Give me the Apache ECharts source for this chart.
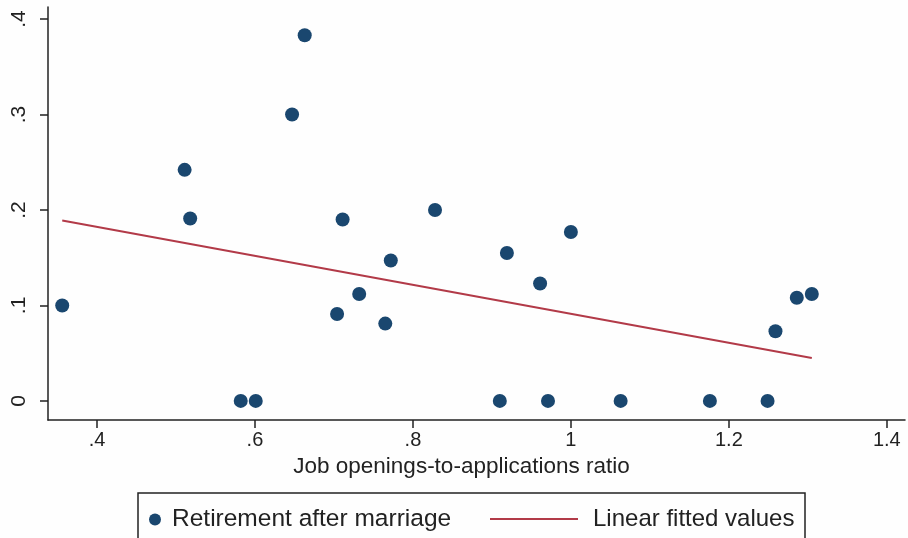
<!DOCTYPE html>
<html>
<head>
<meta charset="utf-8">
<script src="https://cdn.jsdelivr.net/npm/echarts@6/dist/echarts.min.js"></script>
<style>
  html, body { margin: 0; padding: 0; background: #fefefe; }
  #chart { width: 908px; height: 538px; }
</style>
</head>
<body>
<div id="chart"></div>
<script>
// job openings-to-applications ratio (x) vs share retiring after marriage (y)
const ratio = [0.356, 0.511, 0.518, 0.582, 0.601, 0.647, 0.663, 0.704, 0.711, 0.732, 0.765, 0.772,
  0.828, 0.910, 0.919, 0.961, 0.971, 1.000, 1.063, 1.176, 1.249, 1.259, 1.286, 1.305];
const retirement = [0.100, 0.242, 0.191, 0, 0, 0.300, 0.383, 0.091, 0.190, 0.112, 0.081, 0.147,
  0.200, 0, 0.155, 0.123, 0, 0.177, 0, 0, 0, 0.073, 0.108, 0.112];
// fitted line end points
const fitX = [0.356, 1.305];
const fitY = [0.189, 0.045];

const xTicks = [0.4, 0.6, 0.8, 1.0, 1.2, 1.4];
const xTickLabels = ['.4', '.6', '.8', '1', '1.2', '1.4'];
const yTicks = [0, 0.1, 0.2, 0.3, 0.4];
const yTickLabels = ['0', '.1', '.2', '.3', '.4'];

const navy = '#1a476f';
const maroon = '#b23a48';
const ink = '#222';
const font = 'Liberation Sans';

const chart = echarts.init(document.getElementById('chart'));

const option = {
  backgroundColor: '#fefefe',
  animation: false,
  textStyle: { fontFamily: font },
  grid: { left: 48, right: 3, top: 7, bottom: 118 },
  xAxis: {
    type: 'value',
    min: 0.338,
    max: 1.423,
    name: 'Job openings-to-applications ratio',
    nameLocation: 'middle',
    nameGap: 35,
    nameTextStyle: { fontSize: 22.5, color: ink, fontFamily: font, padding: [0, 30, 0, 0] },
    axisLine: { onZero: false, lineStyle: { color: ink, width: 1.5 } },
    axisTick: { show: true, length: 8, lineStyle: { color: ink, width: 1.5 }, customValues: xTicks },
    axisLabel: {
      customValues: xTicks,
      fontSize: 20,
      color: ink,
      margin: 10,
      formatter: v => xTickLabels[xTicks.findIndex(t => Math.abs(t - v) < 1e-6)]
    },
    splitLine: { show: false }
  },
  yAxis: {
    type: 'value',
    min: -0.02,
    max: 0.4126,
    axisLine: { show: true, onZero: false, lineStyle: { color: ink, width: 1.5 } },
    axisTick: { show: true, length: 8, lineStyle: { color: ink, width: 1.5 }, customValues: yTicks },
    axisLabel: {
      customValues: yTicks,
      rotate: 90,
      fontSize: 21,
      color: ink,
      margin: 18,
      formatter: v => yTickLabels[yTicks.findIndex(t => Math.abs(t - v) < 1e-6)]
    },
    splitLine: { show: false }
  },
  legend: [
    {
      data: ['Retirement after marriage'],
      left: 149,
      top: 507,
      padding: 0,
      icon: 'circle',
      itemWidth: 24,
      itemHeight: 12,
      textStyle: { fontSize: 24.5, color: ink, fontFamily: font, lineHeight: 24 }
    },
    {
      data: ['Linear fitted values'],
      left: 490,
      top: 507,
      padding: 0,
      icon: 'rect',
      itemWidth: 88,
      itemHeight: 2,
      textStyle: { fontSize: 24, color: ink, fontFamily: font, lineHeight: 24, padding: [0, 0, 0, 10] }
    }
  ],
  graphic: [
    {
      type: 'rect',
      shape: { x: 138, y: 493, width: 667, height: 60 },
      style: { fill: 'none', stroke: ink, lineWidth: 1.5 },
      silent: true
    }
  ],
  series: [
    {
      name: 'Retirement after marriage',
      type: 'scatter',
      symbol: 'circle',
      symbolSize: 14,
      itemStyle: { color: navy, opacity: 1 },
      data: ratio.map((x, i) => [x, retirement[i]])
    },
    {
      name: 'Linear fitted values',
      type: 'line',
      symbol: 'none',
      lineStyle: { color: maroon, width: 2 },
      itemStyle: { color: maroon },
      data: fitX.map((x, i) => [x, fitY[i]])
    }
  ]
};

chart.setOption(option);
</script>
</body>
</html>
